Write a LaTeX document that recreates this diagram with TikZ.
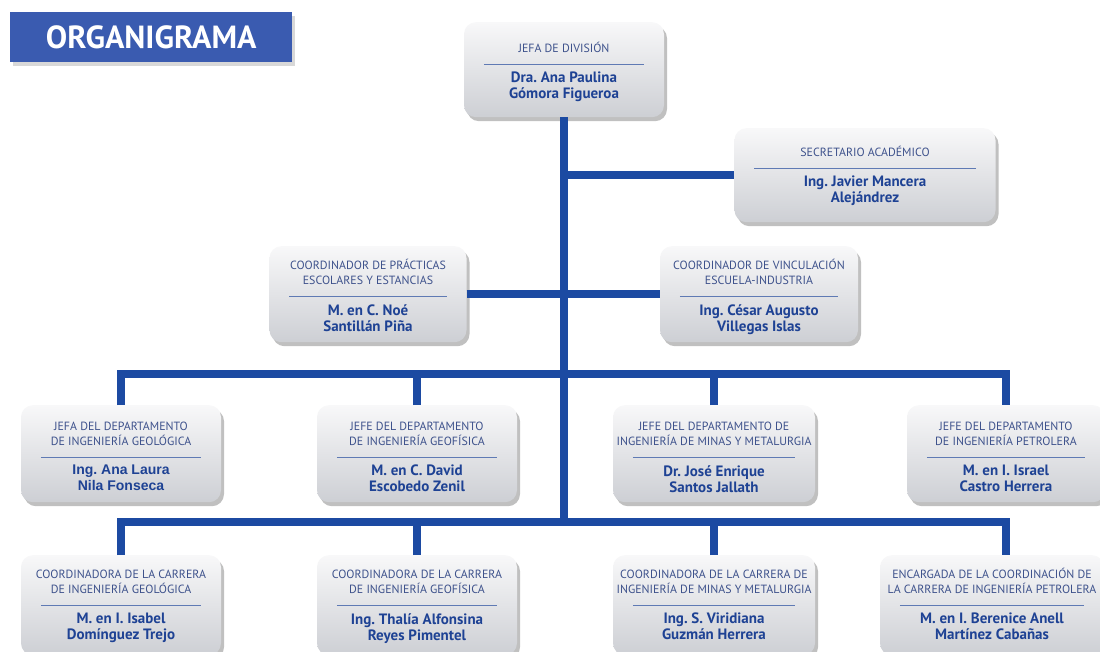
\documentclass[tikz,border=0pt]{standalone}
\usepackage{fontspec}
\setmainfont{PT Sans}
\newfontfamily\arialb{Liberation Sans}
\frenchspacing
\usetikzlibrary{calc,shadows}
\definecolor{banner}{RGB}{58,91,176}
\definecolor{conn}{RGB}{28,74,162}
\definecolor{ttl}{RGB}{62,82,140}
\definecolor{nm}{RGB}{30,66,148}
\definecolor{rl}{RGB}{95,122,180}
\definecolor{boxtop}{RGB}{248,248,249}
\definecolor{boxbot}{RGB}{205,207,212}
\tikzset{
  obox/.style={rectangle, rounded corners=12pt, top color=boxtop, bottom color=boxbot, draw=none,
    drop shadow={shadow xshift=3pt, shadow yshift=-4pt, opacity=0.35, fill=black!70}},
  otitle/.style={inner sep=0pt, align=center, text=ttl, font=\fontsize{11.9}{15}\selectfont},
  oname/.style={inner sep=0pt, align=center, text=nm, font=\fontsize{15}{16}\selectfont\bfseries},
  orule/.style={draw=rl, line width=1pt},
  cline/.style={draw=conn, line width=8pt, line join=miter},
}
% name, cx, top, width, height, rule offset, title, names
\newcommand\orgbox[8]{%
  \node[obox, minimum width=#4pt, minimum height=#5pt, anchor=north] (#1) at (#2,#3) {};
  \draw[orule] ($(#1.north west)+(20,#6)$) -- ($(#1.north east)+(-20,#6)$);
  \node[otitle, anchor=south] (#1-t) at ($(#1.north)+(0,#6-11)$) {#7};
  \node[oname, anchor=north] (#1-n) at ($(#1.north)+(0,#6+8)$) {#8};
}
\begin{document}
\begin{tikzpicture}[x=1pt,y=-1pt]
\useasboundingbox (0,0) rectangle (1100,651);
\clip (0,0) rectangle (1100,651);
\fill[white] (0,0) rectangle (1100,651);

% title banner
\node[fill=banner, minimum width=282pt, minimum height=50pt, anchor=north west, inner sep=0pt,
  text=white, font=\fontsize{32}{34}\selectfont\bfseries,
  drop shadow={shadow xshift=3pt, shadow yshift=-4pt, opacity=0.3}] (banner) at (10,12) {ORGANIGRAMA};

% boxes
\orgbox{top}{564}{22}{200}{95}{42}{JEFA DE DIVISIÓN}{Dra. Ana Paulina\\Gómora Figueroa}
\orgbox{sec}{865}{128}{261}{94}{40}{SECRETARIO ACADÉMICO}{Ing. Javier Mancera\\Alejándrez}
\orgbox{prac}{368}{246}{197}{96}{50}{COORDINADOR DE PRÁCTICAS\\ESCOLARES Y ESTANCIAS}{M. en C. Noé\\Santillán Piña}
\orgbox{vinc}{759}{246}{198}{96}{50}{COORDINADOR DE VINCULACIÓN\\ESCUELA-INDUSTRIA}{Ing. César Augusto\\Villegas Islas}

\orgbox{ra}{121}{405}{200}{97}{52}{JEFA DEL DEPARTAMENTO\\DE INGENIERÍA GEOLÓGICA}{\arialb\fontsize{14}{16}\selectfont Ing. Ana Laura\\\arialb\fontsize{14}{16}\selectfont Nila Fonseca}
\orgbox{rb}{417}{405}{200}{97}{52}{JEFE DEL DEPARTAMENTO\\DE INGENIERÍA GEOFÍSICA}{M. en C. David\\Escobedo Zenil}
\orgbox{rc}{714}{405}{202}{97}{52}{JEFE DEL DEPARTAMENTO DE\\INGENIERÍA DE MINAS Y METALURGIA}{Dr. José Enrique\\Santos Jallath}
\orgbox{rd}{1006}{405}{198}{97}{52}{JEFE DEL DEPARTAMENTO\\DE INGENIERÍA PETROLERA}{M. en I. Israel\\Castro Herrera}

\orgbox{sa}{121}{555}{200}{100}{50}{COORDINADORA DE LA CARRERA\\DE INGENIERÍA GEOLÓGICA}{M. en I. Isabel\\Domínguez Trejo}
\orgbox{sb}{417}{555}{200}{100}{50}{COORDINADORA DE LA CARRERA\\DE INGENIERÍA GEOFÍSICA}{Ing. Thalía Alfonsina\\Reyes Pimentel}
\orgbox{sc}{714}{555}{202}{100}{50}{COORDINADORA DE LA CARRERA DE\\INGENIERÍA DE MINAS Y METALURGIA}{Ing. S. Viridiana\\Guzmán Herrera}
\orgbox{sd}{992}{555}{224}{100}{50}{ENCARGADA DE LA COORDINACIÓN DE\\LA CARRERA DE INGENIERÍA PETROLERA}{M. en I. Berenice Anell\\Martínez Cabañas}

% connectors
\coordinate (bus1) at (564,374);
\coordinate (bus2) at (564,522);
\draw[cline] (top.south) -- (top.south |- bus2);
\draw[cline] (top.south |- sec.west) -- (sec.west);
\draw[cline] (prac.east) -- (vinc.west);
\draw[cline] (ra.north) |- (bus1) -| (rd.north);
\draw[cline] (rb.north) -- (rb.north |- bus1);
\draw[cline] (rc.north) -- (rc.north |- bus1);
\draw[cline] (sa.north) |- (bus2) -| (sd.north -| rd.north);
\draw[cline] (sb.north) -- (sb.north |- bus2);
\draw[cline] (sc.north) -- (sc.north |- bus2);
\end{tikzpicture}
\end{document}
